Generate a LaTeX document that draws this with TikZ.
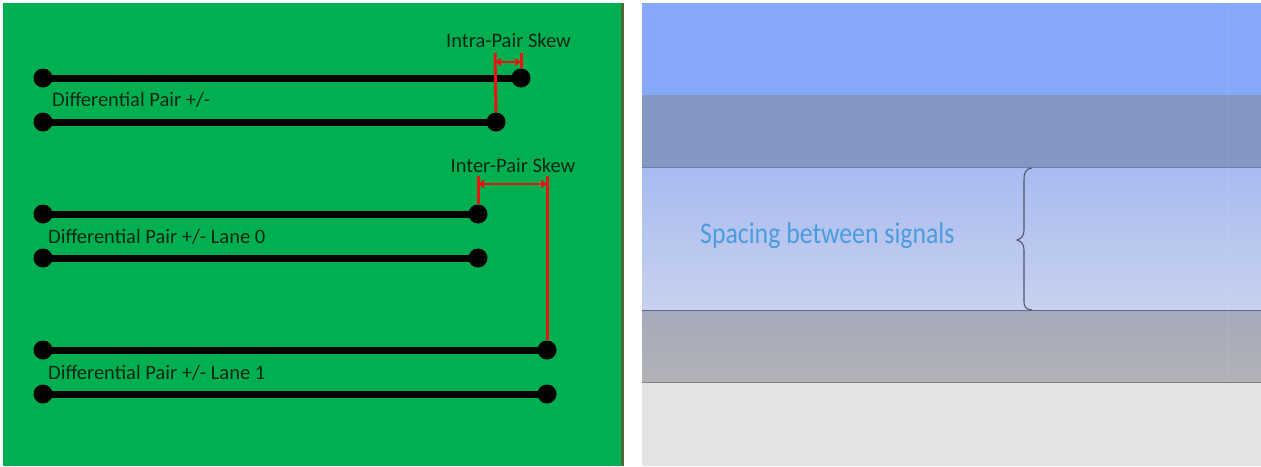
\documentclass[tikz,border=0pt]{standalone}
\usepackage{fontspec}
\setmainfont{Carlito}
\usetikzlibrary{arrows.meta}
\definecolor{pcb}{RGB}{0,175,80}
\definecolor{pcbedge}{RGB}{80,105,50}
\definecolor{skew}{RGB}{232,20,20}
\definecolor{lbl}{RGB}{8,40,22}
\definecolor{bandA}{RGB}{134,168,249}
\definecolor{bandB}{RGB}{132,151,196}
\definecolor{bandCt}{RGB}{168,186,240}
\definecolor{bandCb}{RGB}{200,210,238}
\definecolor{bandDt}{RGB}{165,170,186}
\definecolor{bandDb}{RGB}{178,178,183}
\definecolor{bandE}{RGB}{227,227,227}
\definecolor{spc}{RGB}{74,155,224}
\definecolor{brc}{RGB}{80,88,110}
\tikzset{
  pad/.style={circle,fill=black,inner sep=0pt,minimum size=19pt},
  trace/.style={line width=7pt,black},
  skewline/.style={line width=3pt,skew},
  skewarrow/.style={line width=2.4pt,skew,{Triangle[length=6pt,width=8pt]}-{Triangle[length=6pt,width=8pt]}},
  tlabel/.style={font=\fontsize{20.5}{22}\selectfont,text=lbl,inner sep=0pt,anchor=base west},
  slabel/.style={font=\fontsize{20.5}{22}\selectfont,text=lbl,inner sep=0pt,anchor=base}
}
\begin{document}
\begin{tikzpicture}[x=1pt,y=-1pt]
\useasboundingbox (0,0) rectangle (1261,466);
\fill[white] (0,0) rectangle (1261,466);
% left panel
\fill[pcb] (3,3) rectangle (623,466);
\fill[pcbedge] (621,3) rectangle (623.5,466);
% right panel bands
\fill[bandA] (642,3) rectangle (1261,95);
\fill[bandB] (642,95) rectangle (1261,167);
\shade[top color=bandCt,bottom color=bandCb] (642,167) rectangle (1261,310);
\shade[top color=bandDt,bottom color=bandDb] (642,310) rectangle (1261,382);
\fill[bandE] (642,382) rectangle (1261,466);
\draw[line width=0.8pt,color=bandB!85!black] (642,167) -- (1261,167);
\draw[line width=1pt,color=gray!80!blue] (642,310) -- (1261,310);
\draw[line width=1.2pt,color=gray] (642,382.5) -- (1261,382.5);
\draw[line width=0.6pt,color=white,opacity=0.07] (1227,3) -- (1227,382);
% pads
\node[pad] (a1) at (43,78) {};
\node[pad] (a2) at (521,78) {};
\node[pad] (b1) at (43,122) {};
\node[pad] (b2) at (496,122) {};
\node[pad] (c1) at (43,214) {};
\node[pad] (c2) at (478,214) {};
\node[pad] (d1) at (43,258) {};
\node[pad] (d2) at (478,258) {};
\node[pad] (e1) at (43,350) {};
\node[pad] (e2) at (547,350) {};
\node[pad] (f1) at (43,394) {};
\node[pad] (f2) at (547,394) {};
% traces
\draw[trace] (a1.center) -- (a2.center);
\draw[trace] (b1.center) -- (b2.center);
\draw[trace] (c1.center) -- (c2.center);
\draw[trace] (d1.center) -- (d2.center);
\draw[trace] (e1.center) -- (e2.center);
\draw[trace] (f1.center) -- (f2.center);
% labels
\node[tlabel] (l1) at (52,106) {Differential Pair +/-};
\node[tlabel] (l2) at (48,243) {Differential Pair +/- Lane 0};
\node[tlabel] (l3) at (48,379) {Differential Pair +/- Lane 1};
% intra-pair skew
\coordinate (ia) at (495,53);
\coordinate (ib) at (521,53);
\draw[skewline] (ia) -- (b2.north);
\draw[skewline] (ib) -- (a2.north);
\coordinate (iaa) at (495,62);
\coordinate (ibb) at (521,62);
\draw[skewarrow] (iaa) -- (ibb);
\node[slabel] (intra) at (508.5,47) {Intra-Pair Skew};
% inter-pair skew
\coordinate (ja) at (478,176);
\coordinate (jb) at (547,176);
\draw[skewline] (ja) -- (c2.north);
\draw[skewline] (jb) -- (e2.north);
\coordinate (jaa) at (478,184);
\coordinate (jbb) at (547,184);
\draw[skewarrow] (jaa) -- (jbb);
\node[slabel] (inter) at (513,172.5) {Inter-Pair Skew};
% right panel text and brace
\node[font=\fontsize{30}{32}\selectfont,text=spc,inner sep=0pt,anchor=west,xscale=0.86] (sp) at (700,236) {Spacing between signals};
\draw[brc,line width=1.1pt] (1032,168) .. controls (1025,169) and (1024,173) .. (1024,180)
  -- (1024,230) .. controls (1024,236) and (1021,239) .. (1017,240)
  .. controls (1021,241) and (1024,244) .. (1024,250)
  -- (1024,300) .. controls (1024,307) and (1025,309) .. (1032,310);
\end{tikzpicture}
\end{document}
